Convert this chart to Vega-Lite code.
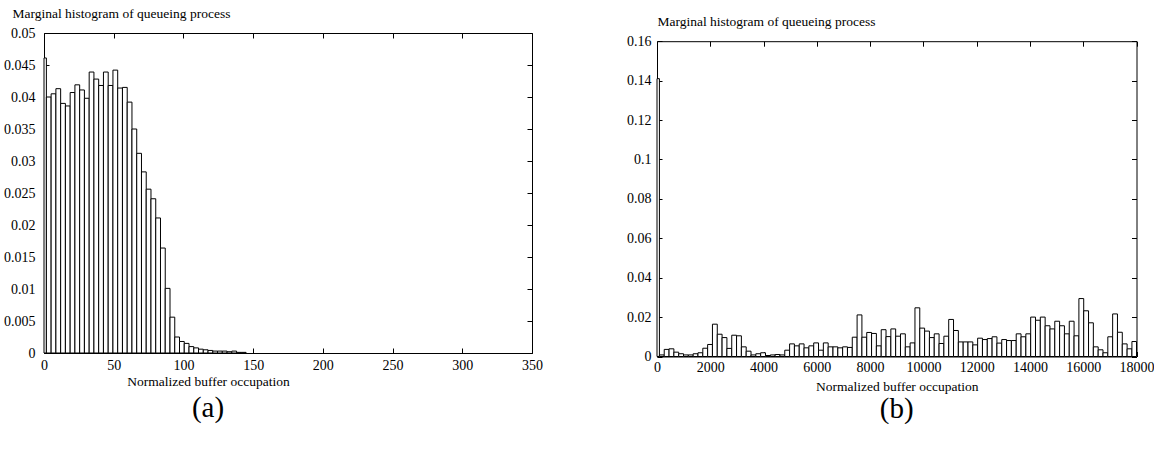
{
  "$schema": "https://vega.github.io/schema/vega-lite/v6.json",
  "background": "white",
  "padding": {"left": 3, "top": 5, "right": 0, "bottom": 0},
  "autosize": {"type": "pad"},
  "spacing": 83,
  "config": {
    "font": "Liberation Serif",
    "view": {"stroke": "black", "strokeWidth": 1},
    "axis": {
      "labelFont": "Liberation Serif",
      "labelFontSize": 14,
      "labelColor": "black",
      "labelFlush": false,
      "titleFont": "Liberation Serif",
      "titleFontSize": 13.5,
      "titleFontWeight": "normal",
      "titleColor": "black",
      "domain": false,
      "domainColor": "black",
      "domainWidth": 1,
      "grid": false,
      "tickColor": "black",
      "tickSize": -5,
      "tickWidth": 1
    },
    "title": {"font": "Liberation Serif", "fontWeight": "normal", "color": "black"}
  },
  "datasets": {
    "a": [
      {"lo": 0, "hi": 1.71, "p": 0.0461},
      {"lo": 1.71, "hi": 5.12, "p": 0.0400},
      {"lo": 5.12, "hi": 8.53, "p": 0.0405},
      {"lo": 8.53, "hi": 11.94, "p": 0.0413},
      {"lo": 11.94, "hi": 15.35, "p": 0.0390},
      {"lo": 15.35, "hi": 18.76, "p": 0.0386},
      {"lo": 18.76, "hi": 22.17, "p": 0.0407},
      {"lo": 22.17, "hi": 25.58, "p": 0.0419},
      {"lo": 25.58, "hi": 28.99, "p": 0.0411},
      {"lo": 28.99, "hi": 32.4, "p": 0.0398},
      {"lo": 32.4, "hi": 35.81, "p": 0.0439},
      {"lo": 35.81, "hi": 39.22, "p": 0.0428},
      {"lo": 39.22, "hi": 42.63, "p": 0.0418},
      {"lo": 42.63, "hi": 46.04, "p": 0.0439},
      {"lo": 46.04, "hi": 49.45, "p": 0.0418},
      {"lo": 49.45, "hi": 52.86, "p": 0.0442},
      {"lo": 52.86, "hi": 56.27, "p": 0.0414},
      {"lo": 56.27, "hi": 59.68, "p": 0.0415},
      {"lo": 59.68, "hi": 63.09, "p": 0.0392},
      {"lo": 63.09, "hi": 66.5, "p": 0.0350},
      {"lo": 66.5, "hi": 69.91, "p": 0.0312},
      {"lo": 69.91, "hi": 73.32, "p": 0.0283},
      {"lo": 73.32, "hi": 76.73, "p": 0.0256},
      {"lo": 76.73, "hi": 80.14, "p": 0.0241},
      {"lo": 80.14, "hi": 83.55, "p": 0.0211},
      {"lo": 83.55, "hi": 86.96, "p": 0.0164},
      {"lo": 86.96, "hi": 90.37, "p": 0.0101},
      {"lo": 90.37, "hi": 93.78, "p": 0.0056},
      {"lo": 93.78, "hi": 97.19, "p": 0.0025},
      {"lo": 97.19, "hi": 100.6, "p": 0.0018},
      {"lo": 100.6, "hi": 104.01, "p": 0.0015},
      {"lo": 104.01, "hi": 107.42, "p": 0.0010},
      {"lo": 107.42, "hi": 110.83, "p": 0.0008},
      {"lo": 110.83, "hi": 114.24, "p": 0.0006},
      {"lo": 114.24, "hi": 117.65, "p": 0.0005},
      {"lo": 117.65, "hi": 121.06, "p": 0.0004},
      {"lo": 121.06, "hi": 124.47, "p": 0.0003},
      {"lo": 124.47, "hi": 127.88, "p": 0.0003},
      {"lo": 127.88, "hi": 131.29, "p": 0.0003},
      {"lo": 131.29, "hi": 134.7, "p": 0.0002},
      {"lo": 134.7, "hi": 138.11, "p": 0.0003},
      {"lo": 138.11, "hi": 141.52, "p": 0.0001},
      {"lo": 141.52, "hi": 144.93, "p": 0.0001}
    ],
    "b": [
      {"lo": 0, "hi": 90.5, "p": 0.141},
      {"lo": 90.5, "hi": 271.5, "p": 0.0008},
      {"lo": 271.5, "hi": 452.5, "p": 0.0036},
      {"lo": 452.5, "hi": 633.5, "p": 0.0039},
      {"lo": 633.5, "hi": 814.5, "p": 0.0022},
      {"lo": 814.5, "hi": 995.5, "p": 0.0014},
      {"lo": 995.5, "hi": 1176.5, "p": 0.0008},
      {"lo": 1176.5, "hi": 1357.5, "p": 0.0008},
      {"lo": 1357.5, "hi": 1538.5, "p": 0.0014},
      {"lo": 1538.5, "hi": 1719.5, "p": 0.0019},
      {"lo": 1719.5, "hi": 1900.5, "p": 0.0042},
      {"lo": 1900.5, "hi": 2081.5, "p": 0.0061},
      {"lo": 2081.5, "hi": 2262.5, "p": 0.0164},
      {"lo": 2262.5, "hi": 2443.5, "p": 0.0113},
      {"lo": 2443.5, "hi": 2624.5, "p": 0.0096},
      {"lo": 2624.5, "hi": 2805.5, "p": 0.0041},
      {"lo": 2805.5, "hi": 2986.5, "p": 0.0108},
      {"lo": 2986.5, "hi": 3167.5, "p": 0.0105},
      {"lo": 3167.5, "hi": 3348.5, "p": 0.0049},
      {"lo": 3348.5, "hi": 3529.5, "p": 0.0027},
      {"lo": 3529.5, "hi": 3710.5, "p": 0.0008},
      {"lo": 3710.5, "hi": 3891.5, "p": 0.0014},
      {"lo": 3891.5, "hi": 4072.5, "p": 0.0019},
      {"lo": 4072.5, "hi": 4253.5, "p": 0.0005},
      {"lo": 4253.5, "hi": 4434.5, "p": 0.0008},
      {"lo": 4434.5, "hi": 4615.5, "p": 0.0010},
      {"lo": 4615.5, "hi": 4796.5, "p": 0.0008},
      {"lo": 4796.5, "hi": 4977.5, "p": 0.0032},
      {"lo": 4977.5, "hi": 5158.5, "p": 0.0064},
      {"lo": 5158.5, "hi": 5339.5, "p": 0.0054},
      {"lo": 5339.5, "hi": 5520.5, "p": 0.0064},
      {"lo": 5520.5, "hi": 5701.5, "p": 0.0044},
      {"lo": 5701.5, "hi": 5882.5, "p": 0.0054},
      {"lo": 5882.5, "hi": 6063.5, "p": 0.0069},
      {"lo": 6063.5, "hi": 6244.5, "p": 0.0032},
      {"lo": 6244.5, "hi": 6425.5, "p": 0.0069},
      {"lo": 6425.5, "hi": 6606.5, "p": 0.0049},
      {"lo": 6606.5, "hi": 6787.5, "p": 0.0049},
      {"lo": 6787.5, "hi": 6968.5, "p": 0.0044},
      {"lo": 6968.5, "hi": 7149.5, "p": 0.0049},
      {"lo": 7149.5, "hi": 7330.5, "p": 0.0046},
      {"lo": 7330.5, "hi": 7511.5, "p": 0.0098},
      {"lo": 7511.5, "hi": 7692.5, "p": 0.0211},
      {"lo": 7692.5, "hi": 7873.5, "p": 0.0098},
      {"lo": 7873.5, "hi": 8054.5, "p": 0.0122},
      {"lo": 8054.5, "hi": 8235.5, "p": 0.0117},
      {"lo": 8235.5, "hi": 8416.5, "p": 0.0054},
      {"lo": 8416.5, "hi": 8597.5, "p": 0.0136},
      {"lo": 8597.5, "hi": 8778.5, "p": 0.0101},
      {"lo": 8778.5, "hi": 8959.5, "p": 0.0140},
      {"lo": 8959.5, "hi": 9140.5, "p": 0.0103},
      {"lo": 9140.5, "hi": 9321.5, "p": 0.0115},
      {"lo": 9321.5, "hi": 9502.5, "p": 0.0049},
      {"lo": 9502.5, "hi": 9683.5, "p": 0.0069},
      {"lo": 9683.5, "hi": 9864.5, "p": 0.0247},
      {"lo": 9864.5, "hi": 10045.5, "p": 0.0144},
      {"lo": 10045.5, "hi": 10226.5, "p": 0.0129},
      {"lo": 10226.5, "hi": 10407.5, "p": 0.0096},
      {"lo": 10407.5, "hi": 10588.5, "p": 0.0115},
      {"lo": 10588.5, "hi": 10769.5, "p": 0.0066},
      {"lo": 10769.5, "hi": 10950.5, "p": 0.0103},
      {"lo": 10950.5, "hi": 11131.5, "p": 0.0188},
      {"lo": 11131.5, "hi": 11312.5, "p": 0.0132},
      {"lo": 11312.5, "hi": 11493.5, "p": 0.0074},
      {"lo": 11493.5, "hi": 11674.5, "p": 0.0074},
      {"lo": 11674.5, "hi": 11855.5, "p": 0.0074},
      {"lo": 11855.5, "hi": 12036.5, "p": 0.0059},
      {"lo": 12036.5, "hi": 12217.5, "p": 0.0093},
      {"lo": 12217.5, "hi": 12398.5, "p": 0.0086},
      {"lo": 12398.5, "hi": 12579.5, "p": 0.0091},
      {"lo": 12579.5, "hi": 12760.5, "p": 0.0100},
      {"lo": 12760.5, "hi": 12941.5, "p": 0.0068},
      {"lo": 12941.5, "hi": 13122.5, "p": 0.0086},
      {"lo": 13122.5, "hi": 13303.5, "p": 0.0081},
      {"lo": 13303.5, "hi": 13484.5, "p": 0.0081},
      {"lo": 13484.5, "hi": 13665.5, "p": 0.0115},
      {"lo": 13665.5, "hi": 13846.5, "p": 0.0100},
      {"lo": 13846.5, "hi": 14027.5, "p": 0.0115},
      {"lo": 14027.5, "hi": 14208.5, "p": 0.0200},
      {"lo": 14208.5, "hi": 14389.5, "p": 0.0184},
      {"lo": 14389.5, "hi": 14570.5, "p": 0.0200},
      {"lo": 14570.5, "hi": 14751.5, "p": 0.0156},
      {"lo": 14751.5, "hi": 14932.5, "p": 0.0140},
      {"lo": 14932.5, "hi": 15113.5, "p": 0.0179},
      {"lo": 15113.5, "hi": 15294.5, "p": 0.0156},
      {"lo": 15294.5, "hi": 15475.5, "p": 0.0115},
      {"lo": 15475.5, "hi": 15656.5, "p": 0.0179},
      {"lo": 15656.5, "hi": 15837.5, "p": 0.0105},
      {"lo": 15837.5, "hi": 16018.5, "p": 0.0294},
      {"lo": 16018.5, "hi": 16199.5, "p": 0.0232},
      {"lo": 16199.5, "hi": 16380.5, "p": 0.0171},
      {"lo": 16380.5, "hi": 16561.5, "p": 0.0049},
      {"lo": 16561.5, "hi": 16742.5, "p": 0.0034},
      {"lo": 16742.5, "hi": 16923.5, "p": 0.0019},
      {"lo": 16923.5, "hi": 17104.5, "p": 0.0100},
      {"lo": 17104.5, "hi": 17285.5, "p": 0.0216},
      {"lo": 17285.5, "hi": 17466.5, "p": 0.0123},
      {"lo": 17466.5, "hi": 17647.5, "p": 0.0064},
      {"lo": 17647.5, "hi": 17828.5, "p": 0.0039},
      {"lo": 17828.5, "hi": 18000, "p": 0.0076}
    ]
  },
  "hconcat": [
    {
      "width": 488,
      "height": 320,
      "data": {"name": "a"},
      "title": {"text": "(a)", "orient": "bottom", "fontSize": 29, "frame": "group", "anchor": "start", "align": "center", "dx": 164, "offset": 6},
      "resolve": {"axis": {"x": "independent", "y": "independent"}},
      "layer": [
        {
          "mark": {"type": "rect", "fill": "white", "stroke": "black", "strokeWidth": 1},
          "encoding": {
            "x": {"field": "lo", "type": "quantitative", "scale": {"domain": [0, 350], "nice": false}, "axis": {"orient": "bottom", "values": [0, 50, 100, 150, 200, 250, 300, 350], "format": "d", "labelPadding": 10, "title": "Normalized buffer occupation", "titlePadding": 2, "titleX": 164, "titleAlign": "center"}},
            "x2": {"field": "hi"},
            "y": {"field": "p", "type": "quantitative", "scale": {"domain": [0, 0.05], "nice": false}, "axis": {"orient": "left", "values": [0, 0.005, 0.01, 0.015, 0.02, 0.025, 0.03, 0.035, 0.04, 0.045, 0.05], "format": "~g", "labelPadding": 14, "title": "Marginal histogram of queueing process", "titleAngle": 0, "titleAlign": "left", "titleBaseline": "alphabetic", "titleX": -32, "titleY": -16}},
            "y2": {"datum": 0}
          }
        },
        {
          "mark": {"type": "rect", "opacity": 0},
          "encoding": {
            "x": {"field": "lo", "type": "quantitative", "axis": {"orient": "top", "values": [0, 50, 100, 150, 200, 250, 300, 350], "labels": false, "title": null}},
            "x2": {"field": "hi"},
            "y": {"field": "p", "type": "quantitative", "axis": {"orient": "right", "values": [0, 0.005, 0.01, 0.015, 0.02, 0.025, 0.03, 0.035, 0.04, 0.045, 0.05], "labels": false, "title": null}},
            "y2": {"datum": 0}
          }
        }
      ]
    },
    {
      "width": 479.5,
      "height": 323.5,
      "view": {"stroke": null},
      "data": {"name": "b"},
      "title": {"text": "(b)", "orient": "bottom", "fontSize": 29, "frame": "group", "anchor": "middle", "offset": 2},
      "resolve": {"axis": {"x": "independent", "y": "independent"}},
      "layer": [
        {
          "mark": {"type": "rect", "fill": "white", "stroke": "black", "strokeWidth": 1},
          "encoding": {
            "x": {"field": "lo", "type": "quantitative", "scale": {"domain": [0, 18000], "nice": false}, "axis": {"orient": "bottom", "domain": true, "values": [0, 2000, 4000, 6000, 8000, 10000, 12000, 14000, 16000, 18000], "format": "d", "labelPadding": 9, "title": "Normalized buffer occupation", "titlePadding": 5}},
            "x2": {"field": "hi"},
            "y": {"field": "p", "type": "quantitative", "scale": {"domain": [0, 0.16], "nice": false, "range": [323.5, 8.2]}, "axis": {"orient": "left", "domain": true, "values": [0, 0.02, 0.04, 0.06, 0.08, 0.1, 0.12, 0.14, 0.16], "format": "~g", "labelPadding": 11, "title": "Marginal histogram of queueing process", "titleAngle": 0, "titleAlign": "left", "titleBaseline": "alphabetic", "titleX": 0, "titleY": -7.5}},
            "y2": {"datum": 0}
          }
        },
        {
          "mark": {"type": "rect", "opacity": 0},
          "encoding": {
            "x": {"field": "lo", "type": "quantitative", "axis": {"orient": "top", "domain": true, "offset": -8.2, "values": [0, 2000, 4000, 6000, 8000, 10000, 12000, 14000, 16000, 18000], "labels": false, "title": null}},
            "x2": {"field": "hi"},
            "y": {"field": "p", "type": "quantitative", "axis": {"orient": "right", "domain": true, "values": [0, 0.02, 0.04, 0.06, 0.08, 0.1, 0.12, 0.14, 0.16], "labels": false, "title": null}},
            "y2": {"datum": 0}
          }
        }
      ]
    }
  ]
}
